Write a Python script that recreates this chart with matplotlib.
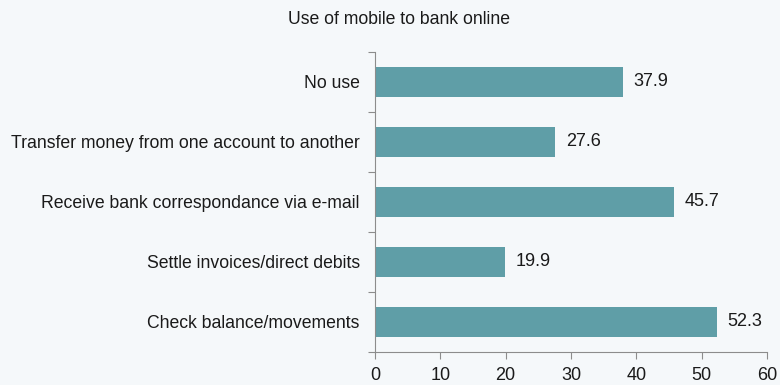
import matplotlib.pyplot as plt

plt.rcParams["font.family"] = ["Liberation Sans", "DejaVu Sans"]

# 項目と割合（%）
categories = [
    "Check balance/movements",
    "Settle invoices/direct debits",
    "Receive bank correspondance via e-mail",
    "Transfer money from one account to another",
    "No use",
]
values = [52.3, 19.9, 45.7, 27.6, 37.9]
xticks = [0, 10, 20, 30, 40, 50, 60]

bg = "#F5F8FA"
bar_color = "#5F9EA7"
axis_color = "#8C8C8C"
text_color = "#1A1A1A"

fig = plt.figure(figsize=(7.8, 3.85), dpi=100, facecolor=bg)
ax = fig.add_axes([375 / 780, 1 - 352 / 385, (767 - 375) / 780, 300 / 385])
ax.set_facecolor(bg)

pos = list(range(len(categories)))
bars = ax.barh(pos, values, height=0.5, color=bar_color)
ax.bar_label(bars, labels=[f"{v:.1f}" for v in values], padding=8,
             fontsize=13, color=text_color)

ax.set_xlim(0, 60)
ax.set_ylim(-0.5, len(categories) - 0.5)
ax.set_xticks(xticks)
ax.set_xticklabels([str(t) for t in xticks], fontsize=13, color=text_color)

# y軸の目盛りは項目の境界に置き、ラベルは中央に表示
ax.set_yticks([p + 0.5 for p in pos[:-1]] + [-0.5, len(categories) - 0.5])
ax.set_yticklabels([])
ax.set_yticks(pos, minor=True)
ax.set_yticklabels(categories, minor=True, fontsize=12.7, color=text_color)
ax.tick_params(axis="y", which="minor", length=0, pad=11)
ax.tick_params(axis="y", which="major", length=5, color=axis_color)
ax.tick_params(axis="x", length=5, color=axis_color, pad=6)

for side in ["top", "right"]:
    ax.spines[side].set_visible(False)
for side in ["left", "bottom"]:
    ax.spines[side].set_color(axis_color)

fig.text(399 / 780, 1 - 20 / 385, "Use of mobile to bank online",
         ha="center", va="center", fontsize=12.7, color=text_color)

fig.savefig("out.png", dpi=100, facecolor=bg)
plt.close(fig)
